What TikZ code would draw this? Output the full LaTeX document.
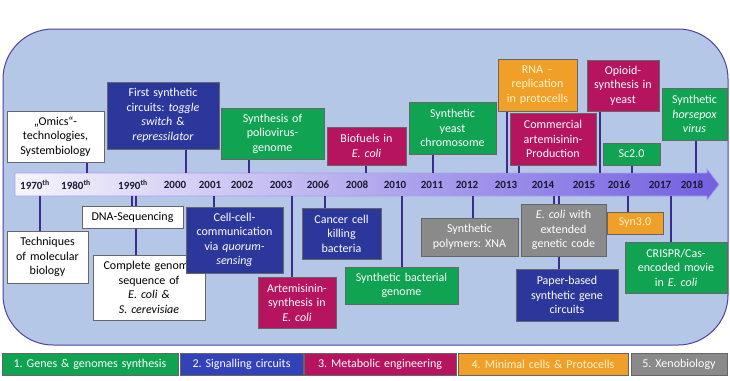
\documentclass[tikz,border=0pt]{standalone}
\usepackage{fontspec}
\setmainfont{Carlito}
\frenchspacing
\definecolor{cgreen}{RGB}{16,163,82}
\definecolor{cblue}{RGB}{43,55,155}
\definecolor{clblue}{RGB}{52,66,185}
\definecolor{cmag}{RGB}{182,20,95}
\definecolor{corange}{RGB}{240,160,40}
\definecolor{cgray}{RGB}{138,138,138}
\definecolor{ccream}{RGB}{255,243,205}
\definecolor{cbg}{RGB}{180,199,231}
\definecolor{cbgborder}{RGB}{80,65,160}
\definecolor{cconn}{RGB}{58,46,140}
\definecolor{cbandL}{RGB}{246,245,252}
\definecolor{cbandR}{RGB}{115,95,225}
\definecolor{cyear}{RGB}{25,25,50}
\pgfdeclarelayer{bg}
\pgfsetlayers{bg,main}
\newcommand\evnode[7]{%
  \pgfmathsetmacro\evw{#4-#2}\pgfmathsetmacro\evh{#5-#3}%
  \pgfmathsetmacro\evtw{#4-#2-2}%
  \node[#6, minimum width=\evw pt, minimum height=\evh pt, text width=\evtw pt] (#1) at ({(#2+#4)/2},{(#3+#5)/2}) {#7};}
\tikzset{
  evbase/.style={draw=black!60, line width=0.7pt, inner sep=0pt, align=center,
    font=\fontsize{12}{14.5}\selectfont},
  gbox/.style={evbase, fill=cgreen, text=white},
  bbox/.style={evbase, fill=cblue, text=white},
  lbbox/.style={evbase, fill=clblue, text=white},
  mbox/.style={evbase, fill=cmag, text=white},
  obox/.style={evbase, fill=corange, text=ccream},
  xbox/.style={evbase, fill=cgray, text=white},
  wbox/.style={evbase, fill=white, text=black},
  year/.style={font=\bfseries\fontsize{11}{13}\selectfont, text=cyear, inner sep=0pt},
  conn/.style={draw=cconn, line width=1.2pt},
}
\begin{document}
\begin{tikzpicture}[x=1pt,y=-1pt]
\useasboundingbox (0,0) rectangle (730,380);
% top boxes
\evnode{omics}{7}{111}{104}{162}{wbox}{„Omics“-\\technologies,\\Systembiology}
\evnode{first}{107}{82}{219}{149}{bbox}{First synthetic\\circuits: \textit{toggle}\\\textit{switch} \&\\\textit{repressilator}}
\evnode{polio}{221}{108}{324}{159}{gbox}{Synthesis of\\poliovirus-\\genome}
\evnode{biofuels}{327}{127}{406}{165}{mbox}{Biofuels in\\\textit{E. coli}}
\evnode{yeastchr}{409}{102}{496}{154}{gbox}{Synthetic\\yeast\\chromosome}
\evnode{rna}{498}{59}{577}{111}{obox}{RNA –\\replication\\in protocells}
\evnode{commart}{510}{113}{596}{165}{mbox}{Commercial\\artemisinin-\\Production}
\evnode{opioid}{587}{60}{659}{111}{mbox}{Opioid-\\synthesis in\\yeast}
\evnode{sc}{603}{143}{660}{165}{gbox}{Sc2.0}
\evnode{horse}{662}{88}{727}{140}{gbox}{Synthetic\\\textit{horsepox}\\\textit{virus}}
% bottom boxes
\evnode{tech}{7}{231}{88}{283}{wbox}{Techniques\\of molecular\\biology}
\evnode{dnaseq}{82}{206}{183}{228}{wbox}{DNA-Sequencing}
\evnode{complete}{93}{255}{205}{320}{wbox}{Complete genome\\sequence of\\\textit{E. coli \&}\\\textit{S. cerevisiae}}
\evnode{cellcell}{186}{207}{283}{273}{bbox}{Cell-cell-\\communication\\via \textit{quorum-}\\\textit{sensing}}
\evnode{artsyn}{258}{277}{336}{328}{mbox}{Artemisinin-\\synthesis in\\\textit{E. coli}}
\evnode{cancer}{302}{208}{381}{259}{bbox}{Cancer cell\\killing\\bacteria}
\evnode{bactgen}{345}{267}{458}{304}{gbox}{Synthetic bacterial\\genome}
\evnode{xna}{421}{218}{518}{256}{xbox}{Synthetic\\polymers: XNA}
\evnode{ecolixt}{521}{204}{606}{256}{xbox}{\textit{E. coli} with\\extended\\genetic code}
\evnode{paper}{516}{269}{618}{321}{bbox}{Paper-based\\synthetic gene\\circuits}
\evnode{syn3}{607}{212}{663}{234}{obox}{Syn3.0}
\evnode{crispr}{625}{242}{727}{293}{gbox}{CRISPR/Cas-\\encoded movie\\in \textit{E. coli}}
% legend
\evnode{leg1}{2}{353}{178}{375}{gbox}{1. Genes \& genomes synthesis}
\evnode{leg2}{180}{353}{303}{375}{lbbox}{2. Signalling circuits}
\evnode{leg3}{304}{353}{456}{375}{mbox}{3. Metabolic engineering}
\evnode{leg4}{458}{353}{628}{375}{obox}{4. Minimal cells \& Protocells}
\evnode{leg5}{631}{353}{727}{375}{xbox}{5. Xenobiology}
% years
\foreach \yx/\yl [count=\i] in {35/1970\textsuperscript{th},76/1980\textsuperscript{th},133/1990\textsuperscript{th},175/2000,210/2001,242/2002,281/2003,318/2006,357/2008,395/2010,432/2011,467/2012,506/2013,543/2014,584/2015,619/2016,660/2017,692/2018}
  \node[year] (y\i) at (\yx,184.5) {\yl};
% top connector ends
\coordinate (t1) at (87,173); \coordinate (t2) at (186,173); \coordinate (t3) at (249,173);
\coordinate (t4) at (366,173); \coordinate (t5) at (433,173); \coordinate (t6) at (507,173);
\coordinate (t7) at (519,173); \coordinate (t8) at (600,173); \coordinate (t9) at (632,173);
\coordinate (t10) at (696,173);
% bottom connector ends
\coordinate (b1) at (40,196); \coordinate (b2) at (132,196); \coordinate (b3) at (136,196);
\coordinate (b4) at (214,196); \coordinate (b5) at (292,196); \coordinate (b6) at (325,196);
\coordinate (b7) at (402,196); \coordinate (b8) at (473,196); \coordinate (b9) at (554,196);
\coordinate (b10) at (559,196); \coordinate (b11) at (628,196); \coordinate (b12) at (671,196);
\begin{pgfonlayer}{bg}
  \draw[fill=cbg, draw=cbgborder, line width=1pt, rounded corners=50pt] (3,29) rectangle (728,345);
  \shade[left color=cbandL, right color=cbandR, draw=cbandR!60!white, line width=0.6pt]
    (15,173) -- (707,173) -- (707,169) -- (719,184.5) -- (707,200) -- (707,196) -- (15,196) -- cycle;
  \draw[conn] (omics.south -| t1) -- (t1);
  \draw[conn] (first.south -| t2) -- (t2);
  \draw[conn] (polio.south -| t3) -- (t3);
  \draw[conn] (biofuels.south -| t4) -- (t4);
  \draw[conn] (yeastchr.south -| t5) -- (t5);
  \draw[conn] (rna.south -| t6) -- (t6);
  \draw[conn] (commart.south -| t7) -- (t7);
  \draw[conn] (opioid.south -| t8) -- (t8);
  \draw[conn] (sc.south -| t9) -- (t9);
  \draw[conn] (horse.south -| t10) -- (t10);
  \draw[conn] (b1) -- (tech.north -| b1);
  \draw[conn] (b2) -- (dnaseq.north -| b2);
  \draw[conn] (b3) -- (complete.north -| b3);
  \draw[conn] (b4) -- (cellcell.north -| b4);
  \draw[conn] (b5) -- (artsyn.north -| b5);
  \draw[conn] (b6) -- (cancer.north -| b6);
  \draw[conn] (b7) -- (bactgen.north -| b7);
  \draw[conn] (b8) -- (xna.north -| b8);
  \draw[conn] (b9) -- (ecolixt.north -| b9);
  \draw[conn] (b10) -- (paper.north -| b10);
  \draw[conn] (b11) -- (syn3.north -| b11);
  \draw[conn] (b12) -- (crispr.north -| b12);
\end{pgfonlayer}
\end{tikzpicture}
\end{document}
